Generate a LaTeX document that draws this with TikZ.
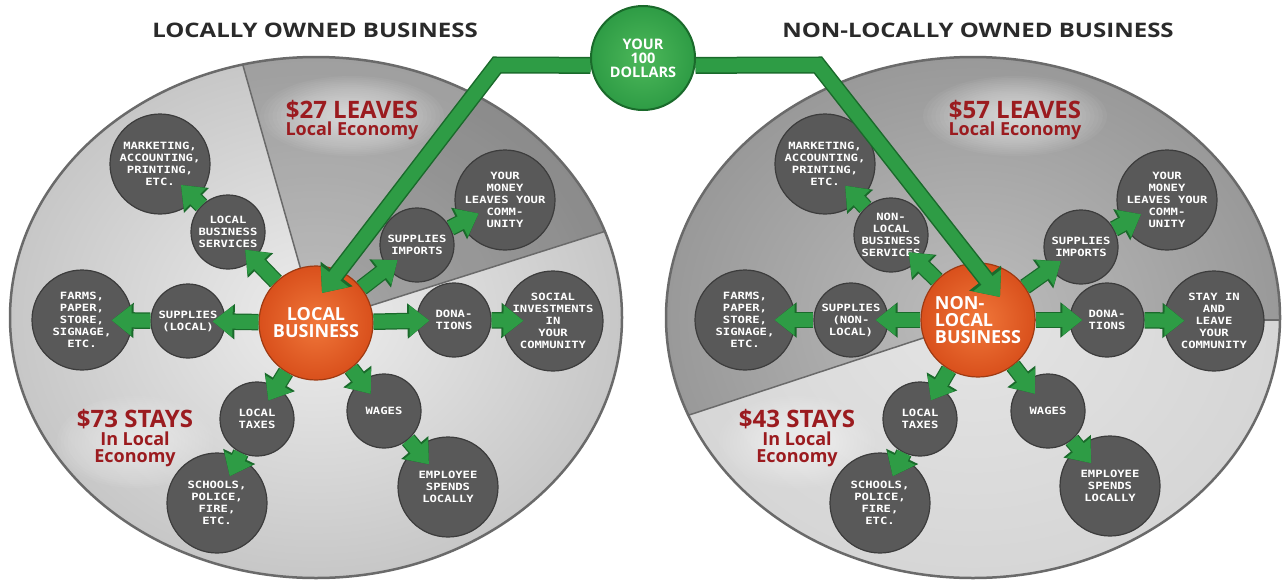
\documentclass[tikz,border=0pt]{standalone}
\usepackage{fontspec}
\setmainfont{Open Sans}
\newfontfamily\pixfont[FakeStretch=1.22]{DejaVu Sans Mono}
\newfontfamily\ttlfont[FakeStretch=1.2]{Open Sans}
\usetikzlibrary{arrows.meta,calc}
\definecolor{bubgray}{HTML}{595959}
\definecolor{bubedge}{HTML}{3C3C3C}
\definecolor{gfill}{HTML}{2E9C45}
\definecolor{gdark}{HTML}{1A6A2B}
\definecolor{orIn}{HTML}{F0773A}
\definecolor{orOut}{HTML}{D9501C}
\definecolor{orEdge}{HTML}{9E3A12}
\definecolor{redtxt}{HTML}{9B1B1F}
\definecolor{ttl}{HTML}{2A2A2A}
\definecolor{rimgray}{HTML}{6A6A6A}
\definecolor{dolIn}{HTML}{4DB85A}
\definecolor{dolOut}{HTML}{2E9C45}
\pgfdeclarelayer{bg}
\pgfdeclarelayer{fg}
\pgfsetlayers{bg,main,fg}
\tikzset{
 bub/.style={circle, fill=bubgray, draw=bubedge, line width=1.2pt, text=white, align=center, inner sep=0pt, font=\pixfont\bfseries\fontsize{10}{12}\selectfont},
 bigb/.style={bub, minimum size=100pt},
 smb/.style={bub, minimum size=74pt},
 orb/.style={circle, inner sep=0pt, minimum size=114pt, draw=orEdge, line width=1.2pt, inner color=orIn, outer color=orOut, text=white, font=\bfseries\fontsize{18}{17}\selectfont},
 garr/.style={draw=gfill, line width=14pt, shorten >=-#1, -{Triangle[width=30pt,length=20pt]}, preaction={draw=gdark, line width=16.5pt, shorten >=-#1, -{Triangle[width=34pt,length=22pt]}}},
 garr/.default=13pt,
 bigpath/.style={draw=gfill, line width=14pt, line join=miter, -{Triangle[width=34pt,length=21pt]}, preaction={draw=gdark, line width=17pt, line join=miter, -{Triangle[width=39pt,length=24pt]}}},
 redbig/.style={text=redtxt, font=\bfseries\fontsize{24}{24}\selectfont, anchor=base, inner sep=0pt},
 redsm/.style={text=redtxt, font=\bfseries\fontsize{18}{18}\selectfont, anchor=base, inner sep=0pt},
 ttlnode/.style={text=ttl, font=\ttlfont\bfseries\fontsize{20}{20}\selectfont, anchor=base, inner sep=0pt},
 dolnode/.style={circle, inner sep=0pt, minimum size=104pt, draw=gdark, line width=2pt, inner color=dolIn, outer color=dolOut, text=white, align=center, font=\bfseries\fontsize{14.5}{14}\selectfont},
}
\begin{document}
\begin{tikzpicture}[x=1pt,y=-1pt]
\useasboundingbox (0,0) rectangle (1282,581);
\begin{pgfonlayer}{bg}
\fill[white] (0,0) rectangle (1282,581);
% left ellipse
\begin{scope}
\clip (316,317.5) ellipse [x radius=306pt, y radius=260.5pt];
\shade[inner color=white!93!black, outer color=white!78!black] (316,317.5) ellipse [x radius=306pt, y radius=260.5pt];
\fill[black, opacity=0.2] (316,323) -- (221,-12) -- (700,-12) -- (685,206) -- cycle;
\fill[black, opacity=0.12] (316,323) -- (322,293) -- (550,-5) -- (700,-12) -- (685,206) -- cycle;
\draw[rimgray, line width=1.5pt] (316,323) -- (221,-12);
\draw[rimgray, line width=1.5pt] (316,323) -- (685,206);
\end{scope}
\draw[rimgray, line width=2.5pt] (316,317.5) ellipse [x radius=306pt, y radius=260.5pt];
% right ellipse
\begin{scope}
\clip (973,317.5) ellipse [x radius=307pt, y radius=260.5pt];
\shade[inner color=white!74!black, outer color=white!60!black] (973,317.5) ellipse [x radius=307pt, y radius=260.5pt];
\fill[white, opacity=0.6] (978,320) -- (613,440) -- (613,600) -- (1300,600) -- (1300,320) -- cycle;
\draw[rimgray, line width=1.5pt] (978,320) -- (613,440);
\draw[rimgray, line width=1.5pt] (978,320) -- (1300,320);
\end{scope}
\draw[rimgray, line width=2.5pt] (973,317.5) ellipse [x radius=307pt, y radius=260.5pt];
% glows
\foreach \cx/\cy/\rx/\ry in {352/116/92/40, 135/442/78/46, 1015/116/92/40, 797/442/78/46} {
  \foreach \k in {0,...,19} {
    \fill[white, opacity=0.045] (\cx,\cy) ellipse [x radius={(\rx-\k*0.045*\rx)*1pt}, y radius={(\ry-\k*0.045*\ry)*1pt}];
  }
}
\end{pgfonlayer}

% titles
\node[ttlnode] (tl) at (315,37) {LOCALLY OWNED BUSINESS};
\node[ttlnode] (tr) at (978,37) {NON-LOCALLY OWNED BUSINESS};
% red labels
\node[redbig] (l27) at (352,118) {\$27 LEAVES};
\node[redsm] (l27b) at (352,135) {Local Economy};
\node[redbig] (l73) at (135,427) {\$73 STAYS};
\node[redsm] (l73b) at (135,445) {In Local};
\node[redsm] (l73c) at (135,462) {Economy};
\node[redbig] (r57) at (1015,118) {\$57 LEAVES};
\node[redsm] (r57b) at (1015,135) {Local Economy};
\node[redbig] (r43) at (797,427) {\$43 STAYS};
\node[redsm] (r43b) at (797,445) {In Local};
\node[redsm] (r43c) at (797,462) {Economy};

% left nodes
\node[orb, align=center] (local) at (316,323) {LOCAL\\BUSINESS};
\node[bigb] (mkt) at (160,164) {MARKETING,\\ACCOUNTING,\\PRINTING,\\ETC.};
\node[smb] (lbs) at (228,232) {LOCAL\\BUSINESS\\SERVICES};
\node[bigb] (farms) at (82,320) {FARMS,\\PAPER,\\STORE,\\SIGNAGE,\\ETC.};
\node[smb] (supL) at (188,321) {SUPPLIES\\(LOCAL)};
\node[smb] (supI) at (417,245) {SUPPLIES\\IMPORTS};
\node[bigb] (money) at (505,200) {YOUR\\MONEY\\LEAVES YOUR\\COMM-\\UNITY};
\node[smb] (dona) at (454,320) {DONA-\\TIONS};
\node[bigb] (social) at (553,321) {SOCIAL\\INVESTMENTS\\IN\\YOUR\\COMMUNITY};
\node[smb] (taxes) at (257,419) {LOCAL\\TAXES};
\node[bigb] (schools) at (217,503) {SCHOOLS,\\POLICE,\\FIRE,\\ETC.};
\node[smb] (wages) at (384,411) {WAGES};
\node[bigb] (emp) at (448,487) {EMPLOYEE\\SPENDS\\LOCALLY};

% right nodes
\node[orb, align=left] (nlocal) at (978,320) {NON-\\LOCAL\\BUSINESS};
\node[bigb] (rmkt) at (825,164) {MARKETING,\\ACCOUNTING,\\PRINTING,\\ETC.};
\node[smb] (rlbs) at (891,235) {NON-\\LOCAL\\BUSINESS\\SERVICES};
\node[bigb] (rfarms) at (745,320) {FARMS,\\PAPER,\\STORE,\\SIGNAGE,\\ETC.};
\node[smb] (rsup) at (851,320) {SUPPLIES\\(NON-\\LOCAL)};
\node[smb] (rsupI) at (1081,247) {SUPPLIES\\IMPORTS};
\node[bigb] (rmoney) at (1167,200) {YOUR\\MONEY\\LEAVES YOUR\\COMM-\\UNITY};
\node[smb] (rdona) at (1107,320) {DONA-\\TIONS};
\node[bigb] (rstay) at (1214,321) {STAY IN\\AND\\LEAVE\\YOUR\\COMMUNITY};
\node[smb] (rtaxes) at (920,419) {LOCAL\\TAXES};
\node[bigb] (rschools) at (880,503) {SCHOOLS,\\POLICE,\\FIRE,\\ETC.};
\node[smb] (rwages) at (1048,411) {WAGES};
\node[bigb] (remp) at (1110,486) {EMPLOYEE\\SPENDS\\LOCALLY};

% small arrows left
\draw[garr] (local) -- (lbs);
\draw[garr=21pt] (lbs) -- (mkt);
\draw[garr] (local) -- (supL);
\draw[garr=21pt] (supL) -- (farms);
\draw[garr] (local) -- (supI);
\draw[garr=21pt] (supI) -- (money);
\draw[garr] (local) -- (dona);
\draw[garr=21pt] (dona) -- (social);
\draw[garr=16pt] (local) -- (taxes);
\draw[garr=21pt] (taxes) -- (schools);
\draw[garr=16pt] (local) -- (wages);
\draw[garr=21pt] (wages) -- (emp);
% small arrows right
\draw[garr] (nlocal) -- (rlbs);
\draw[garr=21pt] (rlbs) -- (rmkt);
\draw[garr] (nlocal) -- (rsup);
\draw[garr=21pt] (rsup) -- (rfarms);
\draw[garr] (nlocal) -- (rsupI);
\draw[garr=21pt] (rsupI) -- (rmoney);
\draw[garr] (nlocal) -- (rdona);
\draw[garr=21pt] (rdona) -- (rstay);
\draw[garr=16pt] (nlocal) -- (rtaxes);
\draw[garr=21pt] (rtaxes) -- (rschools);
\draw[garr=16pt] (nlocal) -- (rwages);
\draw[garr=21pt] (rwages) -- (remp);

% dollars and big paths
\begin{pgfonlayer}{fg}
\node[dolnode] (dollars) at (643,58) {YOUR\\100\\DOLLARS};
\end{pgfonlayer}
\coordinate (cL) at (497,65);
\coordinate (tipL) at (322,293);
\coordinate (cR) at (818,65);
\coordinate (tipR) at (1000,297);
\draw[bigpath] (dollars.188) -- (cL) -- (tipL);
\draw[bigpath] (dollars.-8) -- (cR) -- (tipR);
\end{tikzpicture}
\end{document}
